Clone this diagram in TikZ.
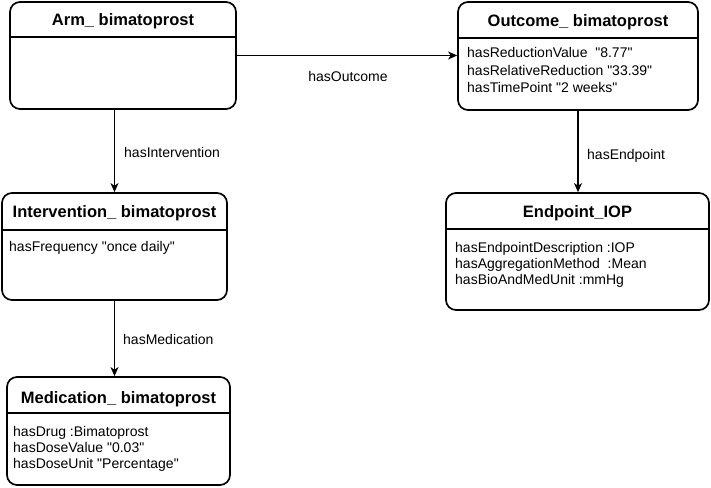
\documentclass[tikz,border=0pt]{standalone}
\usepackage{fontspec}
\setmainfont{Liberation Sans}[Ligatures=TeXOff]
\usetikzlibrary{arrows.meta}
\begin{document}
\begin{tikzpicture}[x=1pt,y=-1pt,
  box/.style={draw=black, line width=1.7pt, rounded corners=10pt, inner sep=0pt, fill=white},
  sep/.style={draw=black, line width=1.5pt},
  ttl/.style={font=\fontsize{16.5}{19}\selectfont\bfseries, anchor=base, inner sep=0pt},
  body/.style={font=\fontsize{14}{16.8}\selectfont, anchor=base west, inner sep=0pt},
  lbl/.style={font=\fontsize{14}{16.8}\selectfont, inner sep=0pt},
  conn/.style={draw=black, line width=1.3pt, -{Stealth[length=9pt,width=8pt,inset=2.5pt]}}]
\useasboundingbox (0,0) rectangle (711,487);
% boxes
\node[box, minimum width=226pt, minimum height=107pt] (arm) at (123,55.5) {};
\node[box, minimum width=240pt, minimum height=108pt] (outcome) at (578,56) {};
\node[box, minimum width=225pt, minimum height=107pt] (interv) at (114.5,246.5) {};
\node[box, minimum width=263pt, minimum height=117pt] (endpt) at (577.5,251.5) {};
\node[box, minimum width=223pt, minimum height=108pt] (medic) at (118.5,431) {};
% separators
\draw[sep] (arm.west |- 0,37) -- (arm.east |- 0,37);
\draw[sep] (outcome.west |- 0,38) -- (outcome.east |- 0,38);
\draw[sep] (interv.west |- 0,230) -- (interv.east |- 0,230);
\draw[sep] (endpt.west |- 0,229) -- (endpt.east |- 0,229);
\draw[sep] (medic.west |- 0,413) -- (medic.east |- 0,413);
% titles
\node[ttl] (armt) at (123,26) {Arm\_ bimatoprost};
\node[ttl] (outt) at (578,27) {Outcome\_ bimatoprost};
\node[ttl] (intt) at (114.5,217) {Intervention\_ bimatoprost};
\node[ttl] (endt) at (577.5,217) {Endpoint\_IOP};
\node[ttl] (medt) at (118.5,403) {Medication\_ bimatoprost};
% body text
\node[body] (o1) at (467,58) {hasReductionValue~~"8.77"};
\node[body] (o2) at (467,75) {hasRelativeReduction "33.39"};
\node[body] (o3) at (467,92) {hasTimePoint "2 weeks"};
\node[body] (i1) at (9,251) {hasFrequency "once daily"};
\node[body] (e1) at (455,252) {hasEndpointDescription :IOP};
\node[body] (e2) at (455,268) {hasAggregationMethod~~:Mean};
\node[body] (e3) at (455,284) {hasBioAndMedUnit :mmHg};
\node[body] (m1) at (13,436) {hasDrug :Bimatoprost};
\node[body] (m2) at (13,452) {hasDoseValue "0.03"};
\node[body] (m3) at (13,468) {hasDoseUnit "Percentage"};
% connectors
\draw[conn] (arm.east) -- (arm.east -| outcome.west);
\draw[conn] (arm.south -| interv.north) -- (interv.north);
\draw[conn] (interv.south) -- (interv.south |- medic.north);
\draw[conn] (outcome.south) -- (outcome.south |- endpt.north);
% connector labels
\node[lbl, anchor=base] (lo) at (348,81) {hasOutcome};
\node[lbl, anchor=base west] (li) at (124,157) {hasIntervention};
\node[lbl, anchor=base west] (lm) at (123,344) {hasMedication};
\node[lbl, anchor=base west] (le) at (587,159) {hasEndpoint};
\end{tikzpicture}
\end{document}
